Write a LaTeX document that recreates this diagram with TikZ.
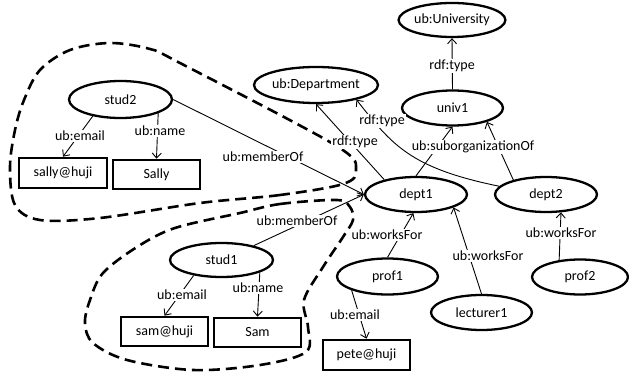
\documentclass[tikz,border=0pt]{standalone}
\usepackage{fontspec}
\setmainfont{Carlito}
\usetikzlibrary{shapes.geometric,arrows.meta}
\begin{document}
\begin{tikzpicture}[x=1pt,y=-1pt,
  font=\fontsize{14}{16}\selectfont,
  ent/.style={ellipse,draw,line width=2.3pt,inner sep=0pt,minimum width=101pt,minimum height=35pt},
  lit/.style={rectangle,draw,line width=2.6pt,inner sep=0pt,minimum width=87pt,minimum height=29pt},
  conn/.style={line width=0.9pt,-{Straight Barb[length=5pt,width=9pt]}},
  lbl/.style={fill=white,inner sep=1pt},
  grp/.style={line width=2.6pt,dash pattern=on 11pt off 6pt}
]
\useasboundingbox (0,0) rectangle (629,374);

% groups
\draw[grp] plot[smooth cycle,tension=0.55] coordinates {
  (343,184) (280,195) (200,203) (100,218) (40,220) (15,205) (10,167) (15,130)
  (24,100) (40,70) (70,50) (110,43) (150,49) (180,63) (335,145) (356,170)};
\draw[grp] plot[smooth cycle,tension=0.55] coordinates {
  (240,213) (280,204) (337,200) (350,207) (353,220) (343,237) (323,267) (304,300)
  (308,327) (306,352) (260,365) (193,370) (127,360) (93,343) (85,323) (90,300)
  (103,273) (137,247) (175,228)};

% nodes
\node[ent,minimum width=100pt,minimum height=34pt] (univ) at (452,20) {ub:University};
\node[ent,minimum width=102pt,minimum height=36pt] (dept) at (316,85) {ub:Department};
\node[ent] (univ1) at (452.5,108) {univ1};
\node[ent,minimum width=102pt] (dept1) at (416,194.5) {dept1};
\node[ent,minimum width=102pt] (dept2) at (546,194.5) {dept2};
\node[ent,minimum height=36pt] (prof1) at (387.5,276.5) {prof1};
\node[ent,minimum width=96pt] (prof2) at (580,277) {prof2};
\node[ent] (lect) at (481.5,312.5) {lecturer1};
\node[ent,minimum width=103pt,minimum height=37pt] (stud2) at (120.5,99.5) {stud2};
\node[ent,minimum width=103pt,minimum height=34pt] (stud1) at (221.5,260) {stud1};
\node[lit,minimum width=88pt,minimum height=30pt] (sallye) at (63,173) {sally@huji};
\node[lit] (sally) at (156.5,174.5) {Sally};
\node[lit] (same) at (164.5,331.5) {sam@huji};
\node[lit] (sam) at (257.5,332.5) {Sam};
\node[lit,minimum height=30pt] (petee) at (366.5,355) {pete@huji};

% connectors
\draw[conn] (univ1.north) -- (univ.south);
\draw[conn] (dept1.155) -- (dept.south);
\draw[conn] (dept2.170) .. controls (410,168) and (392,145) .. (dept.-20);
\draw[conn] (dept1.north) -- (univ1.south);
\draw[conn] (dept2.156) -- (univ1.-22);
\draw[conn] (stud2.east) -- (dept1.west);
\draw[conn] (stud1.24) -- (dept1.west);
\draw[conn] (stud2.211) -- (sallye.north);
\draw[conn] (stud2.-20) -- (sally.north);
\draw[conn] (stud1.209) -- (same.north);
\draw[conn] (stud1.-18) -- (sam.north);
\draw[conn] (prof1.201) -- (petee.north);
\draw[conn] (prof1.north) -- (dept1.262);
\draw[conn] (lect.north) -- (dept1.-19);
\draw[conn] (prof2.141) -- (dept2.-50);

% labels
\node[lbl] (l1) at (452,66) {rdf:type};
\node[lbl] (l2) at (355,142) {rdf:type};
\node[lbl] (l3) at (382,121) {rdf:type};
\node[lbl] (l4) at (473,147) {ub:suborganizationOf};
\node[lbl] (l5) at (263,157) {ub:memberOf};
\node[lbl] (l6) at (297,221) {ub:memberOf};
\node[lbl] (l7) at (80,136) {ub:email};
\node[lbl] (l8) at (160,131) {ub:name};
\node[lbl] (l9) at (182,295) {ub:email};
\node[lbl] (l10) at (258,288) {ub:name};
\node[lbl] (l11) at (355,315) {ub:email};
\node[lbl] (l12) at (387,235) {ub:worksFor};
\node[lbl] (l13) at (488,256) {ub:worksFor};
\node[lbl] (l14) at (561,233) {ub:worksFor};
\end{tikzpicture}
\end{document}
